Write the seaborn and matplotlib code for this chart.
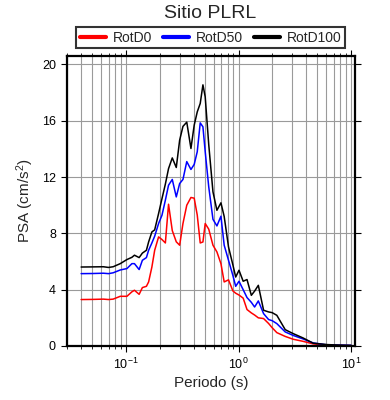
import numpy as np
import pandas as pd
import matplotlib
matplotlib.use("Agg")
import matplotlib.pyplot as plt
from matplotlib.ticker import LogLocator, FixedLocator, NullFormatter
import seaborn as sns

periods = [0.040, 0.051, 0.063, 0.070, 0.077, 0.089, 0.102, 0.113, 0.119, 0.131,
           0.140, 0.152, 0.159, 0.170, 0.180, 0.195, 0.209, 0.224, 0.239, 0.258,
           0.280, 0.300, 0.321, 0.347, 0.378, 0.404, 0.430, 0.457, 0.483, 0.506,
           0.544, 0.593, 0.643, 0.698, 0.746, 0.815, 0.892, 0.944, 1.01, 1.10,
           1.19, 1.30, 1.39, 1.50, 1.67, 1.85, 1.99, 2.19, 2.60, 3.06,
           3.75, 4.60, 6.12, 7.99, 10.0]

rotd100 = [5.61, 5.62, 5.63, 5.58, 5.63, 5.85, 6.14, 6.30, 6.45, 6.28,
           6.60, 6.80, 7.39, 8.10, 8.25, 9.41, 10.47, 11.50, 12.60, 13.36,
           12.68, 14.62, 15.60, 15.90, 14.03, 15.69, 16.63, 17.23, 18.55, 17.70,
           14.30, 10.95, 9.64, 10.17, 9.20, 7.04, 5.75, 4.90, 5.38, 4.60,
           4.72, 3.60, 3.90, 4.31, 2.54, 2.42, 2.37, 2.18, 1.16, 0.88,
           0.57, 0.20, 0.10, 0.06, 0.04]

rotd50 = [5.14, 5.15, 5.17, 5.14, 5.20, 5.40, 5.50, 5.85, 5.85, 5.43,
          6.09, 6.28, 6.80, 7.32, 7.80, 8.70, 9.29, 10.36, 11.42, 11.83,
          10.59, 11.54, 11.83, 13.10, 12.54, 12.90, 13.80, 15.85, 15.57, 13.80,
          11.30, 9.00, 8.53, 9.22, 7.16, 6.09, 5.00, 4.24, 4.60, 4.00,
          3.44, 3.10, 2.77, 3.20, 2.30, 1.88, 1.80, 1.59, 1.00, 0.75,
          0.50, 0.22, 0.08, 0.06, 0.05]

rotd0 = [3.30, 3.31, 3.33, 3.30, 3.33, 3.53, 3.53, 3.85, 3.96, 3.67,
         4.15, 4.24, 4.55, 5.61, 6.80, 7.75, 7.56, 7.32, 10.07, 8.20,
         7.40, 7.16, 8.70, 10.00, 10.55, 10.50, 9.30, 7.32, 7.39, 8.70,
         8.30, 7.16, 6.68, 5.85, 4.55, 4.70, 3.91, 3.75, 3.62, 3.40,
         2.59, 2.35, 2.20, 2.00, 1.95, 1.60, 1.30, 0.95, 0.68, 0.48,
         0.33, 0.15, 0.06, 0.04, 0.03]

series_names = ["RotD0", "RotD50", "RotD100"]
series_colors = ["#ff0000", "#0000ff", "#000000"]
y_ticks = [0, 4, 8, 12, 16, 20]

title = "Sitio PLRL"
xlabel = "Periodo (s)"
ylabel = "PSA (cm/s$^2$)"

df = pd.concat([
    pd.DataFrame({"Periodo": periods, "PSA": vals, "Componente": name})
    for name, vals in zip(series_names, [rotd0, rotd50, rotd100])
], ignore_index=True)

sns.set_style("white")
plt.rcParams["font.family"] = ["Liberation Sans", "DejaVu Sans"]
plt.rcParams["mathtext.fontset"] = "custom"
plt.rcParams["mathtext.rm"] = "Liberation Sans"
plt.rcParams["mathtext.it"] = "Liberation Sans:italic"

fig = plt.figure(figsize=(3.9, 4.0), dpi=100)
ax = fig.add_axes([0.172, 0.135, 0.739, 0.725])

sns.lineplot(data=df, x="Periodo", y="PSA", hue="Componente",
             hue_order=series_names, palette=dict(zip(series_names, series_colors)),
             estimator=None, sort=False, linewidth=1.1, ax=ax, legend=False)

ax.set_xscale("log")
ax.set_xlim(0.03, 10.9)
ax.set_ylim(0, 20.6)
ax.yaxis.set_major_locator(FixedLocator(y_ticks))
ax.xaxis.set_major_locator(LogLocator(base=10, numticks=10))
ax.xaxis.set_minor_locator(LogLocator(base=10, subs=np.arange(2, 10), numticks=20))
ax.xaxis.set_minor_formatter(NullFormatter())

ax.grid(True, which="major", axis="both", color="#9a9a9a", linewidth=0.8)
ax.grid(True, which="minor", axis="x", color="#9a9a9a", linewidth=0.8)
ax.set_axisbelow(True)

for s in ax.spines.values():
    s.set_visible(True)
    s.set_linewidth(1.6)
    s.set_color("black")

ax.tick_params(axis="both", which="major", direction="out", length=4.5, width=0.8,
               labelsize=9, colors="black", top=True, right=True,
               bottom=True, left=True)
ax.tick_params(axis="x", which="minor", direction="out", length=2.5, width=0.7,
               top=True, bottom=True)

ax.set_xlabel(xlabel, fontsize=11, labelpad=3)
ax.set_ylabel(ylabel, fontsize=11, labelpad=4)
fig.text(0.54, 0.965, title, ha="center", va="center", fontsize=14)

from matplotlib.lines import Line2D
handles = [Line2D([], [], color=c, linewidth=3) for c in series_colors]
leg = fig.legend(handles, series_names, loc="center", bbox_to_anchor=(0.54, 0.906),
                 ncol=3, fontsize=10, frameon=True, fancybox=False,
                 handlelength=1.9, handletextpad=0.45, columnspacing=0.8,
                 borderpad=0.25, edgecolor="black")
leg.get_frame().set_linewidth(1.5)

fig.savefig("out.png", dpi=100)
